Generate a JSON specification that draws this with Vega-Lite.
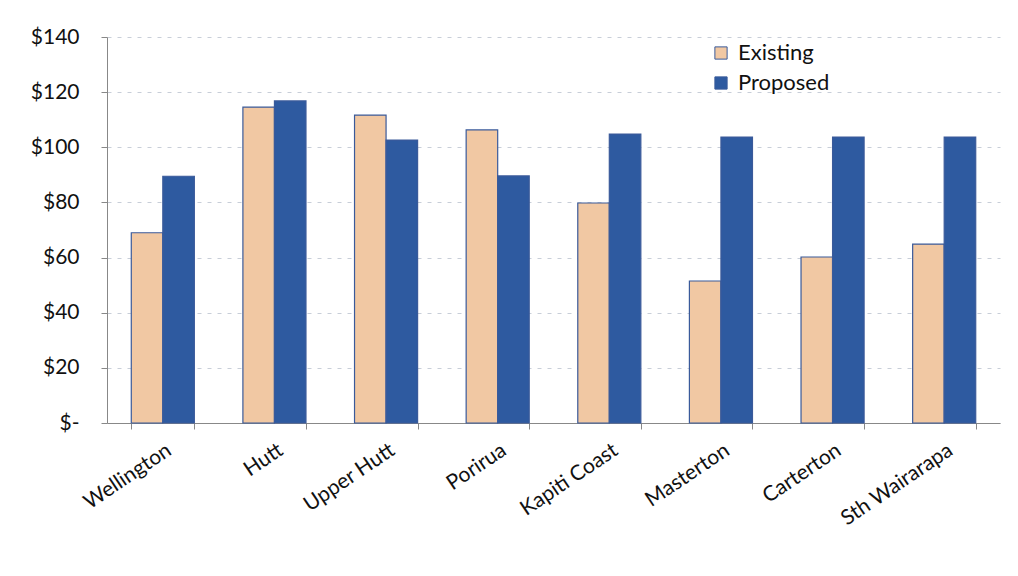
{
  "$schema": "https://vega.github.io/schema/vega-lite/v6.json",
  "autosize": {"type": "none"},
  "padding": {"left": 107, "top": 37, "right": 18, "bottom": 153},
  "width": 893,
  "height": 386,
  "background": "white",
  "data": {
    "values": [
      {"council": "Wellington", "scenario": "Existing", "value": 69},
      {"council": "Wellington", "scenario": "Proposed", "value": 89.5},
      {"council": "Hutt", "scenario": "Existing", "value": 114.6},
      {"council": "Hutt", "scenario": "Proposed", "value": 116.8},
      {"council": "Upper Hutt", "scenario": "Existing", "value": 111.7},
      {"council": "Upper Hutt", "scenario": "Proposed", "value": 102.6},
      {"council": "Porirua", "scenario": "Existing", "value": 106.3},
      {"council": "Porirua", "scenario": "Proposed", "value": 89.6},
      {"council": "Kapiti Coast", "scenario": "Existing", "value": 79.8},
      {"council": "Kapiti Coast", "scenario": "Proposed", "value": 104.8},
      {"council": "Masterton", "scenario": "Existing", "value": 51.5},
      {"council": "Masterton", "scenario": "Proposed", "value": 103.7},
      {"council": "Carterton", "scenario": "Existing", "value": 60.2},
      {"council": "Carterton", "scenario": "Proposed", "value": 103.7},
      {"council": "Sth Wairarapa", "scenario": "Existing", "value": 64.9},
      {"council": "Sth Wairarapa", "scenario": "Proposed", "value": 103.7}
    ]
  },
  "mark": {"type": "bar", "stroke": "#3A5A9A", "strokeWidth": 1.2},
  "encoding": {
    "x": {
      "field": "council",
      "type": "nominal",
      "sort": null,
      "title": null,
      "scale": {"paddingInner": 0.435, "paddingOuter": 0.2175},
      "axis": {
        "tickBand": "extent",
        "labelAngle": -34,
        "labelFont": "Lato",
        "labelFontSize": 21,
        "labelColor": "#111111",
        "labelPadding": 10,
        "tickSize": 6,
        "tickColor": "#888888",
        "domainColor": "#888888",
        "grid": false
      }
    },
    "xOffset": {"field": "scenario", "type": "nominal"},
    "y": {
      "field": "value",
      "type": "quantitative",
      "title": null,
      "scale": {"domain": [0, 140], "nice": false},
      "axis": {
        "values": [0, 20, 40, 60, 80, 100, 120, 140],
        "labelExpr": "datum.value == 0 ? '$-' : '$' + datum.value",
        "labelFont": "Lato",
        "labelFontSize": 21,
        "labelColor": "#111111",
        "labelPadding": 22,
        "tickSize": 6,
        "tickColor": "#888888",
        "domainColor": "#888888",
        "gridColor": "#C8CED8",
        "gridDash": [4, 6]
      }
    },
    "color": {
      "field": "scenario",
      "type": "nominal",
      "title": null,
      "scale": {"domain": ["Existing", "Proposed"], "range": ["#F1C8A3", "#2E5AA0"]},
      "legend": {
        "orient": "none",
        "legendX": 603,
        "legendY": 5,
        "symbolType": "square",
        "symbolSize": 150,
        "symbolStrokeColor": "#3A5A9A",
        "symbolStrokeWidth": 1,
        "labelFont": "Lato",
        "labelFontSize": 22,
        "labelColor": "#111111",
        "rowPadding": 8,
        "labelOffset": 6
      }
    }
  },
  "config": {"view": {"stroke": null}}
}
